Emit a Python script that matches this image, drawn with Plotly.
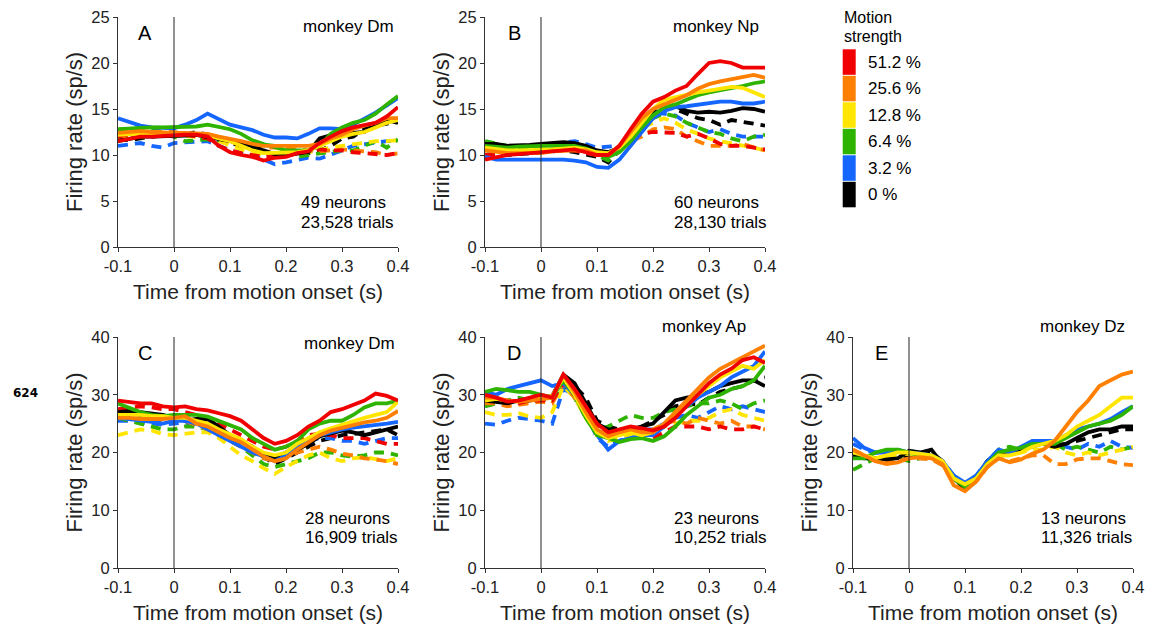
import plotly.graph_objects as go

W, H = 1160, 629

TIME = [-0.10, -0.08, -0.06, -0.04, -0.02, 0.00, 0.02, 0.04, 0.06, 0.08, 0.10, 0.12, 0.14,
        0.16, 0.18, 0.20, 0.22, 0.24, 0.26, 0.28, 0.30, 0.32, 0.34, 0.36, 0.38, 0.40]

STRENGTHS = ["51.2 %", "25.6 %", "12.8 %", "6.4 %", "3.2 %", "0 %"]
COLOR_NAMES = ["red", "orange", "yellow", "green", "blue", "black"]
COLORS = {"red": "#F00000", "orange": "#FF7F00", "yellow": "#FFE500",
          "green": "#2EB400", "blue": "#1466FF", "black": "#000000"}

X_TICKS = [-0.1, 0, 0.1, 0.2, 0.3, 0.4]
X_TICK_TEXT = ["-0.1", "0", "0.1", "0.2", "0.3", "0.4"]

# ---------------- Panel A (monkey Dm) ----------------
A_RED = [11.5, 11.8, 12.0, 12.0, 12.1, 12.2, 12.2, 12.2, 12.0, 11.0, 10.3, 10.0, 9.8, 9.4, 9.7, 9.8, 10.2, 10.4, 11.3, 12.0, 12.6, 13.0, 13.3, 13.5, 14.2, 15.2]
A_ORANGE = [12.4, 12.5, 12.6, 12.5, 12.4, 12.4, 12.4, 12.4, 12.3, 12.0, 11.8, 11.5, 11.2, 11.0, 11.0, 11.0, 11.0, 11.0, 11.2, 11.8, 12.2, 12.8, 13.2, 13.5, 14.0, 14.0]
A_YELLOW = [12.2, 12.3, 12.3, 12.2, 12.2, 12.2, 12.3, 12.3, 12.1, 11.8, 11.5, 11.0, 10.5, 10.2, 10.2, 10.2, 10.3, 10.5, 11.0, 11.5, 12.0, 12.3, 12.5, 13.0, 13.5, 13.8]
A_GREEN = [12.8, 12.9, 13.0, 13.0, 13.0, 13.0, 13.0, 13.1, 13.3, 13.0, 12.8, 12.3, 11.6, 11.2, 10.8, 10.5, 10.5, 10.5, 11.0, 12.3, 13.0, 13.5, 13.8, 14.5, 15.5, 16.4]
A_BLUE = [14.0, 13.6, 13.2, 13.0, 12.9, 12.9, 13.3, 13.8, 14.5, 13.9, 13.3, 13.0, 12.7, 12.2, 11.9, 11.9, 11.8, 12.3, 12.9, 12.9, 12.8, 13.3, 13.9, 14.6, 15.4, 16.2]
A_BLACK = [11.5, 11.8, 12.0, 12.0, 12.0, 12.0, 12.1, 12.2, 12.0, 11.8, 11.5, 11.2, 11.0, 10.5, 10.1, 10.0, 10.1, 10.3, 11.8, 12.2, 12.5, 12.4, 12.5, 13.3, 13.8, 13.5]
A_RED_D = [12.0, 12.2, 12.2, 12.0, 12.1, 12.3, 12.2, 12.0, 11.8, 11.0, 10.5, 10.2, 10.0, 9.8, 9.9, 10.0, 10.3, 10.5, 10.6, 10.5, 10.5, 10.3, 10.2, 10.0, 10.0, 10.2]
A_ORANGE_D = [12.6, 12.5, 12.4, 12.5, 12.5, 12.5, 12.3, 12.3, 12.0, 11.8, 11.5, 11.2, 11.0, 10.8, 10.8, 10.8, 10.6, 10.5, 10.4, 10.5, 10.6, 10.5, 10.4, 10.3, 10.0, 10.2]
A_YELLOW_D = [12.0, 12.1, 12.0, 12.0, 12.2, 12.1, 12.0, 12.0, 11.9, 11.5, 11.0, 10.6, 10.3, 10.0, 10.0, 10.0, 10.1, 10.3, 10.6, 10.8, 11.0, 11.2, 11.4, 11.5, 11.5, 11.6]
A_GREEN_D = [12.5, 12.8, 13.0, 12.8, 12.5, 12.0, 11.5, 11.6, 11.7, 11.6, 11.5, 11.4, 11.3, 11.2, 11.0, 10.4, 9.8, 10.0, 10.2, 10.4, 10.5, 10.5, 11.0, 11.5, 10.8, 11.7]
A_BLUE_D = [11.0, 11.2, 11.3, 11.0, 10.8, 11.3, 11.4, 11.5, 11.5, 11.0, 10.5, 10.2, 10.0, 9.5, 9.0, 9.2, 9.5, 9.7, 9.6, 10.0, 10.5, 11.0, 11.2, 11.4, 11.5, 11.5]
A_BLACK_D = [11.8, 11.6, 11.8, 12.0, 12.2, 12.0, 12.3, 12.5, 12.2, 11.6, 11.3, 11.0, 10.8, 10.4, 10.0, 10.0, 10.1, 10.2, 10.5, 11.0, 11.8, 12.0, 12.8, 13.2, 13.4, 13.6]

# ---------------- Panel B (monkey Np) ----------------
B_RED = [9.5, 9.8, 10.0, 10.1, 10.2, 10.3, 10.5, 10.6, 10.6, 10.3, 10.0, 10.0, 11.0, 12.8, 14.5, 15.8, 16.3, 17.0, 17.5, 18.8, 20.0, 20.2, 20.0, 19.5, 19.5, 19.5]
B_ORANGE = [10.5, 10.3, 10.2, 10.2, 10.2, 10.2, 10.4, 10.5, 10.5, 10.5, 10.0, 10.0, 11.0, 12.5, 14.0, 15.0, 15.5, 16.0, 16.5, 17.2, 17.7, 18.0, 18.2, 18.5, 18.7, 18.4]
B_YELLOW = [10.8, 10.6, 10.5, 10.5, 10.5, 10.5, 10.6, 10.7, 10.8, 10.6, 10.3, 10.2, 10.8, 12.0, 13.5, 15.0, 16.0, 16.3, 16.5, 16.8, 17.0, 17.2, 17.4, 17.3, 16.8, 16.3]
B_GREEN = [11.0, 10.9, 10.8, 10.9, 11.0, 11.0, 11.0, 11.0, 11.0, 10.7, 10.3, 9.8, 10.3, 11.5, 13.0, 14.3, 15.2, 15.5, 16.0, 16.5, 16.8, 17.0, 17.3, 17.5, 17.8, 18.0]
B_BLUE = [9.8, 9.5, 9.5, 9.5, 9.5, 9.6, 9.6, 9.5, 9.4, 9.2, 8.7, 8.6, 9.5, 11.0, 12.5, 14.0, 14.8, 15.2, 15.3, 15.5, 15.7, 15.8, 15.8, 15.6, 15.6, 15.8]
B_BLACK = [11.2, 11.2, 11.0, 11.0, 11.1, 11.2, 11.3, 11.4, 11.3, 11.0, 10.5, 10.3, 10.8, 12.0, 13.5, 14.5, 15.0, 15.3, 14.8, 14.6, 14.7, 14.6, 14.8, 15.1, 15.0, 14.7]
B_RED_D = [10.0, 10.0, 10.2, 10.3, 10.4, 10.5, 10.6, 10.5, 10.5, 10.2, 10.0, 10.0, 10.8, 11.8, 12.3, 12.5, 12.5, 12.4, 12.0, 12.3, 11.8, 11.2, 11.0, 11.0, 10.8, 10.6]
B_ORANGE_D = [10.5, 10.4, 10.3, 10.3, 10.4, 10.5, 10.5, 10.6, 10.5, 10.3, 10.0, 10.0, 10.5, 11.5, 12.0, 12.8, 13.0, 12.8, 12.0, 11.5, 11.0, 11.0, 11.0, 11.2, 10.8, 10.5]
B_YELLOW_D = [10.6, 10.5, 10.5, 10.4, 10.5, 10.6, 10.7, 10.8, 10.7, 10.5, 10.2, 10.0, 10.6, 12.0, 13.0, 13.5, 14.0, 13.5, 12.8, 12.3, 11.8, 11.5, 11.3, 11.0, 10.8, 10.5]
B_GREEN_D = [11.5, 11.2, 11.0, 10.8, 10.8, 10.9, 11.0, 11.0, 10.9, 10.5, 10.0, 9.4, 10.5, 12.0, 13.2, 14.0, 14.5, 14.2, 13.5, 13.0, 12.5, 12.3, 11.8, 11.5, 12.0, 12.2]
B_BLUE_D = [10.0, 10.3, 10.5, 10.8, 11.0, 11.0, 11.2, 11.4, 11.5, 11.2, 10.8, 10.9, 11.0, 12.0, 13.3, 14.5, 14.5, 14.3, 13.5, 13.0, 12.5, 12.8, 12.3, 12.0, 12.0, 12.0]
B_BLACK_D = [9.8, 9.9, 10.0, 10.1, 10.2, 10.3, 10.5, 10.5, 10.3, 10.0, 9.8, 9.2, 10.5, 12.0, 13.5, 14.5, 15.3, 15.0, 14.5, 14.0, 13.8, 13.3, 13.8, 13.6, 13.5, 13.2]

# ---------------- Panel C (monkey Dm) ----------------
C_RED = [29.0, 28.8, 28.5, 28.5, 28.0, 27.8, 28.0, 27.5, 27.3, 26.8, 26.3, 25.5, 24.0, 22.5, 21.5, 22.0, 23.0, 24.5, 25.5, 27.0, 27.5, 28.3, 29.0, 30.2, 29.8, 29.0]
C_ORANGE = [26.0, 26.0, 25.8, 25.8, 25.8, 26.0, 26.3, 25.0, 24.5, 23.5, 22.5, 21.8, 20.5, 19.3, 18.5, 19.0, 20.5, 21.8, 23.0, 23.8, 24.3, 24.8, 25.2, 25.5, 26.0, 27.2]
C_YELLOW = [26.5, 26.5, 26.5, 26.3, 26.3, 26.0, 26.0, 25.5, 25.0, 24.0, 23.2, 22.3, 21.0, 20.0, 19.5, 20.0, 21.5, 22.5, 23.5, 24.2, 24.8, 25.5, 26.0, 26.5, 27.0, 28.8]
C_GREEN = [28.5, 27.8, 27.0, 26.5, 26.3, 26.5, 26.5, 26.5, 26.2, 25.5, 24.8, 24.0, 22.5, 21.5, 20.5, 21.0, 22.0, 24.0, 25.0, 25.5, 25.5, 26.5, 27.8, 28.5, 28.5, 29.0]
C_BLUE = [26.0, 25.8, 25.5, 25.3, 25.0, 25.5, 25.5, 25.0, 24.0, 23.0, 22.0, 21.0, 20.0, 19.3, 18.5, 19.5, 21.0, 22.0, 23.0, 23.5, 24.0, 24.3, 24.5, 24.8, 25.0, 25.3]
C_BLACK = [27.0, 27.2, 27.0, 26.8, 26.5, 26.0, 25.5, 25.8, 25.8, 24.5, 23.0, 22.0, 21.0, 19.5, 19.0, 20.0, 20.5, 21.5, 22.8, 23.3, 23.8, 23.5, 23.0, 23.5, 24.0, 24.5]
C_RED_D = [27.5, 27.8, 28.0, 27.8, 27.5, 27.5, 27.0, 26.5, 26.0, 25.0, 24.0, 23.0, 22.0, 21.0, 20.5, 21.0, 22.0, 23.0, 23.2, 23.0, 22.5, 22.5, 22.5, 22.0, 21.5, 21.5]
C_ORANGE_D = [26.0, 25.8, 25.6, 25.5, 25.5, 25.8, 25.5, 24.8, 24.0, 23.0, 22.0, 21.0, 20.0, 19.0, 18.5, 19.0, 20.0, 20.5, 21.0, 20.5, 19.8, 19.5, 19.0, 18.8, 18.5, 18.0]
C_YELLOW_D = [23.0, 23.5, 24.0, 23.8, 23.2, 23.0, 23.2, 23.5, 23.5, 22.5, 21.0, 19.5, 18.5, 17.3, 16.3, 17.5, 18.5, 19.5, 20.0, 19.0, 18.5, 19.0, 19.2, 18.8, 18.5, 19.0]
C_GREEN_D = [26.0, 25.5, 25.0, 24.5, 24.0, 24.0, 24.5, 24.5, 24.0, 23.0, 22.0, 21.0, 19.5, 18.0, 17.5, 18.0, 18.5, 19.0, 20.0, 20.0, 19.5, 19.3, 19.5, 20.0, 20.0, 19.5]
C_BLUE_D = [25.5, 25.5, 25.2, 25.0, 24.8, 25.0, 25.2, 24.8, 24.0, 23.0, 22.0, 21.0, 20.0, 19.0, 18.8, 20.0, 21.0, 22.0, 22.5, 22.5, 22.0, 22.0, 21.5, 22.0, 22.5, 22.5]
C_BLACK_D = [26.5, 26.8, 26.5, 26.3, 26.0, 25.8, 25.5, 25.3, 25.0, 24.0, 22.8, 21.5, 20.5, 19.3, 18.0, 19.0, 20.0, 21.0, 22.0, 22.5, 23.0, 23.2, 23.5, 23.8, 24.0, 23.0]

# ---------------- Panel D (monkey Ap) ----------------
D_RED = [30.0, 29.5, 28.8, 29.0, 29.5, 30.0, 29.5, 33.5, 31.0, 28.0, 25.0, 23.5, 24.0, 24.5, 24.2, 23.8, 24.5, 26.0, 28.0, 30.0, 32.0, 33.5, 34.5, 36.0, 36.5, 35.5]
D_ORANGE = [29.5, 29.5, 29.0, 28.8, 29.0, 29.3, 29.5, 33.5, 30.5, 27.0, 24.0, 22.8, 23.5, 24.0, 23.5, 23.5, 25.0, 27.0, 29.0, 31.0, 33.0, 34.5, 35.5, 36.5, 37.5, 38.5]
D_YELLOW = [29.0, 29.3, 29.0, 28.8, 29.2, 29.5, 29.8, 33.0, 30.0, 26.5, 23.5, 22.5, 23.0, 23.5, 23.0, 23.5, 25.0, 26.5, 28.5, 30.0, 31.5, 33.0, 34.0, 35.0, 34.5, 36.0]
D_GREEN = [30.5, 31.0, 30.8, 30.5, 30.5, 30.0, 29.5, 32.5, 30.0, 26.0, 23.0, 22.5, 21.8, 22.3, 22.5, 22.0, 22.8, 24.5, 26.5, 28.0, 29.5, 30.0, 31.0, 31.5, 32.5, 35.0]
D_BLUE = [30.5, 30.0, 31.0, 31.5, 32.0, 32.5, 31.5, 32.0, 30.0, 28.0, 23.0, 20.5, 22.0, 22.5, 23.0, 23.0, 24.5, 26.5, 28.0, 29.5, 30.5, 31.5, 33.0, 34.0, 35.0, 37.5]
D_BLACK = [29.0, 28.8, 28.5, 29.0, 29.0, 29.5, 29.8, 33.5, 32.0, 28.5, 25.0, 24.0, 23.5, 24.0, 24.5, 25.0, 27.0, 29.0, 29.5, 29.8, 30.5, 31.5, 32.0, 32.5, 32.5, 31.5]
D_RED_D = [29.5, 29.0, 29.0, 28.5, 29.0, 29.0, 29.0, 32.0, 30.0, 27.0, 24.5, 23.0, 23.5, 23.5, 23.0, 22.5, 23.5, 24.5, 24.5, 24.5, 24.0, 24.5, 24.0, 24.0, 24.5, 24.0]
D_ORANGE_D = [28.5, 28.5, 28.0, 28.3, 28.5, 28.8, 28.5, 32.0, 29.5, 26.5, 24.0, 23.0, 23.5, 23.5, 23.5, 24.0, 25.0, 25.5, 25.0, 26.0, 25.5, 25.0, 25.5, 24.5, 24.5, 24.0]
D_YELLOW_D = [27.0, 26.5, 26.5, 26.8, 26.2, 26.0, 27.0, 31.5, 29.5, 26.0, 23.0, 22.0, 22.5, 23.0, 23.5, 24.0, 24.5, 25.0, 25.5, 25.5, 26.0, 27.0, 27.5, 26.5, 26.0, 25.5]
D_GREEN_D = [28.0, 28.5, 29.0, 29.5, 29.0, 29.0, 29.0, 32.0, 29.5, 26.0, 24.0, 24.5, 25.5, 26.5, 26.0, 26.0, 27.0, 27.5, 28.0, 28.5, 28.5, 29.0, 28.5, 27.5, 28.5, 29.0]
D_BLUE_D = [25.0, 24.8, 25.5, 26.0, 25.8, 25.5, 25.0, 31.0, 30.0, 27.0, 22.5, 21.0, 22.0, 23.0, 24.0, 24.0, 25.0, 26.0, 26.5, 26.0, 27.0, 28.0, 27.5, 28.0, 27.5, 27.0]
D_BLACK_D = [29.0, 29.2, 29.0, 28.8, 29.0, 29.2, 29.0, 32.0, 31.5, 29.5, 25.5, 24.5, 24.0, 24.0, 24.5, 25.5, 26.5, 28.0, 28.5, 28.3, 29.5, 30.5, 31.0, 31.5, 32.5, 33.0]

# ---------------- Panel E (monkey Dz) ----------------
E_ORANGE = [20.5, 19.5, 18.5, 18.0, 18.3, 19.0, 19.2, 19.0, 18.0, 14.3, 13.3, 15.0, 17.5, 19.0, 18.3, 18.8, 19.8, 20.5, 22.0, 24.5, 27.0, 29.0, 31.5, 32.5, 33.5, 34.0]
E_YELLOW = [20.0, 19.5, 19.0, 19.5, 20.0, 20.0, 19.8, 19.5, 18.5, 15.5, 14.5, 15.5, 18.0, 19.5, 19.5, 20.0, 21.0, 21.5, 22.0, 23.0, 24.5, 25.5, 26.5, 28.0, 29.5, 29.5]
E_GREEN = [19.0, 19.0, 20.0, 20.5, 20.5, 20.0, 19.5, 19.3, 18.3, 15.5, 14.0, 15.5, 18.0, 20.0, 20.5, 20.8, 21.5, 21.5, 21.5, 22.5, 23.5, 24.5, 25.0, 25.5, 26.5, 28.0]
E_BLUE = [22.5, 20.8, 20.0, 20.0, 20.5, 20.0, 19.8, 19.5, 18.5, 16.0, 14.8, 16.0, 18.5, 20.5, 20.0, 21.0, 22.0, 22.0, 22.0, 23.0, 24.0, 24.5, 25.0, 25.8, 27.0, 28.0]
E_BLACK = [19.5, 19.0, 19.0, 18.8, 19.0, 20.3, 20.0, 20.5, 18.0, 15.5, 13.8, 15.5, 18.5, 20.0, 20.0, 20.5, 21.5, 21.5, 21.0, 21.5, 22.5, 23.5, 24.0, 24.0, 24.5, 24.5]
E_ORANGE_D = [20.5, 19.5, 18.5, 18.2, 18.5, 19.0, 19.0, 18.8, 17.8, 15.0, 13.5, 15.0, 17.5, 19.0, 18.5, 19.0, 19.5, 19.5, 18.0, 18.0, 18.8, 19.0, 19.0, 18.5, 18.0, 17.8]
E_YELLOW_D = [19.5, 19.0, 19.0, 19.3, 19.5, 19.8, 19.5, 19.3, 18.3, 15.8, 14.5, 15.5, 18.0, 19.5, 19.5, 20.0, 20.5, 20.5, 21.0, 20.0, 19.5, 20.0, 19.5, 20.0, 20.5, 21.0]
E_GREEN_D = [17.0, 18.0, 19.0, 19.5, 19.0, 18.5, 19.0, 19.0, 18.0, 15.8, 14.0, 15.5, 18.5, 20.5, 21.0, 20.5, 21.5, 21.5, 21.5, 20.5, 21.0, 20.5, 20.0, 21.0, 20.5, 21.0]
E_BLUE_D = [21.5, 20.5, 20.0, 19.8, 20.0, 19.8, 19.5, 19.3, 18.5, 16.0, 14.5, 16.0, 18.5, 20.0, 20.0, 20.5, 21.0, 21.5, 21.5, 21.0, 20.5, 21.5, 21.0, 22.0, 21.0, 20.8]
E_BLACK_D = [19.8, 19.3, 19.0, 19.0, 19.2, 19.5, 19.8, 20.0, 18.5, 15.8, 14.0, 15.5, 18.5, 19.8, 20.0, 20.5, 21.0, 21.5, 21.3, 21.5, 22.0, 22.5, 23.0, 23.5, 24.0, 24.0]

PANELS = [
    dict(letter="A", monkey="monkey Dm", neurons="49 neurons", trials="23,528 trials", ymax=25, ydt=5,
         solid={"red": A_RED, "orange": A_ORANGE, "yellow": A_YELLOW, "green": A_GREEN, "blue": A_BLUE, "black": A_BLACK},
         dashed={"red": A_RED_D, "orange": A_ORANGE_D, "yellow": A_YELLOW_D, "green": A_GREEN_D, "blue": A_BLUE_D, "black": A_BLACK_D}),
    dict(letter="B", monkey="monkey Np", neurons="60 neurons", trials="28,130 trials", ymax=25, ydt=5,
         solid={"red": B_RED, "orange": B_ORANGE, "yellow": B_YELLOW, "green": B_GREEN, "blue": B_BLUE, "black": B_BLACK},
         dashed={"red": B_RED_D, "orange": B_ORANGE_D, "yellow": B_YELLOW_D, "green": B_GREEN_D, "blue": B_BLUE_D, "black": B_BLACK_D}),
    dict(letter="C", monkey="monkey Dm", neurons="28 neurons", trials="16,909 trials", ymax=40, ydt=10,
         solid={"red": C_RED, "orange": C_ORANGE, "yellow": C_YELLOW, "green": C_GREEN, "blue": C_BLUE, "black": C_BLACK},
         dashed={"red": C_RED_D, "orange": C_ORANGE_D, "yellow": C_YELLOW_D, "green": C_GREEN_D, "blue": C_BLUE_D, "black": C_BLACK_D}),
    dict(letter="D", monkey="monkey Ap", neurons="23 neurons", trials="10,252 trials", ymax=40, ydt=10,
         solid={"red": D_RED, "orange": D_ORANGE, "yellow": D_YELLOW, "green": D_GREEN, "blue": D_BLUE, "black": D_BLACK},
         dashed={"red": D_RED_D, "orange": D_ORANGE_D, "yellow": D_YELLOW_D, "green": D_GREEN_D, "blue": D_BLUE_D, "black": D_BLACK_D}),
    dict(letter="E", monkey="monkey Dz", neurons="13 neurons", trials="11,326 trials", ymax=40, ydt=10,
         solid={"orange": E_ORANGE, "yellow": E_YELLOW, "green": E_GREEN, "blue": E_BLUE, "black": E_BLACK},
         dashed={"orange": E_ORANGE_D, "yellow": E_YELLOW_D, "green": E_GREEN_D, "blue": E_BLUE_D, "black": E_BLACK_D}),
]

# layout geometry (pixels)
PANEL_X = [(118, 398), (485, 765), (118, 398), (485, 765), (853, 1133)]
PANEL_Y = [(17, 247), (17, 247), (337, 568), (337, 568), (337, 568)]
MONKEY_POS = [(396, 27), (761, 27), (397, 343), (748, 326), (1127, 326)]
LETTER_POS = [(145.5, 33), (514, 33), (145.5, 353), (513.5, 353), (881, 353)]
COUNT_POS = [(299, 202, 222), (672, 202, 222), (303, 518, 537), (672, 518, 537), (1039, 518, 537)]

FONT = "Liberation Sans, Arial, Helvetica, sans-serif"


def px(x):
    return x / W


def py(y):
    return 1 - y / H


fig = go.Figure()
annotations = []
shapes = []
layout = {}

for i, p in enumerate(PANELS):
    n = i + 1
    xa = "x" if n == 1 else f"x{n}"
    ya = "y" if n == 1 else f"y{n}"
    for name in ["black", "blue", "green", "yellow", "orange", "red"]:
        if name in p["dashed"]:
            fig.add_trace(go.Scatter(x=TIME, y=p["dashed"][name], mode="lines", xaxis=xa, yaxis=ya,
                                     line=dict(color=COLORS[name], width=3.8, dash="10px,7px"),
                                     showlegend=False, hoverinfo="skip"))
    for name in ["black", "blue", "green", "yellow", "orange", "red"]:
        if name in p["solid"]:
            fig.add_trace(go.Scatter(x=TIME, y=p["solid"][name], mode="lines", xaxis=xa, yaxis=ya,
                                     line=dict(color=COLORS[name], width=3.8),
                                     showlegend=False, hoverinfo="skip"))
    x0, x1 = PANEL_X[i]
    y0, y1 = PANEL_Y[i]
    axcommon = dict(showline=True, linecolor="#333333", linewidth=1, ticks="outside", ticklen=4,
                    tickcolor="#333333", showgrid=False, zeroline=False, automargin=False,
                    tickfont=dict(family=FONT, size=16.5, color="#222222"))
    layout["xaxis" if n == 1 else f"xaxis{n}"] = dict(
        domain=[px(x0), px(x1)], range=[-0.1, 0.4], tickvals=X_TICKS, ticktext=X_TICK_TEXT,
        anchor=ya, **axcommon)
    yt = list(range(0, p["ymax"] + 1, p["ydt"]))
    layout["yaxis" if n == 1 else f"yaxis{n}"] = dict(
        domain=[py(y1), py(y0)], range=[0, p["ymax"]], tickvals=yt, ticktext=[str(v) for v in yt],
        anchor=xa, **axcommon)
    # vertical line at motion onset
    shapes.append(dict(type="line", xref=xa, yref=f"{ya} domain", x0=0, x1=0, y0=0, y1=1,
                       line=dict(color="#222222", width=1)))
    # axis titles
    annotations.append(dict(x=px(x0 - 44), y=py((y0 + y1) / 2), xref="paper", yref="paper",
                            text="Firing rate (sp/s)", textangle=-90, showarrow=False,
                            font=dict(family=FONT, size=22, color="#222222"),
                            xanchor="center", yanchor="middle"))
    annotations.append(dict(x=px((x0 + x1) / 2), y=py(y1 + 44), xref="paper", yref="paper",
                            text="Time from motion onset (s)", showarrow=False,
                            font=dict(family=FONT, size=21, color="#222222"),
                            xanchor="center", yanchor="middle"))
    # panel texts
    lx, ly = LETTER_POS[i]
    annotations.append(dict(x=px(lx), y=py(ly), xref="paper", yref="paper", text=p["letter"],
                            showarrow=False, font=dict(family=FONT, size=20, color="#000000"),
                            xanchor="center", yanchor="middle"))
    mx, my = MONKEY_POS[i]
    annotations.append(dict(x=px(mx), y=py(my), xref="paper", yref="paper", text=p["monkey"],
                            showarrow=False, font=dict(family=FONT, size=17, color="#000000"),
                            xanchor="right", yanchor="middle"))
    cx, cy1, cy2 = COUNT_POS[i]
    annotations.append(dict(x=px(cx), y=py(cy1), xref="paper", yref="paper", text=p["neurons"],
                            showarrow=False, font=dict(family=FONT, size=17, color="#000000"),
                            xanchor="left", yanchor="middle"))
    annotations.append(dict(x=px(cx), y=py(cy2), xref="paper", yref="paper", text=p["trials"],
                            showarrow=False, font=dict(family=FONT, size=17, color="#000000"),
                            xanchor="left", yanchor="middle"))

# legend (color key)
annotations.append(dict(x=px(842), y=py(17.5), xref="paper", yref="paper", text="Motion",
                        showarrow=False, font=dict(family=FONT, size=16, color="#000000"),
                        xanchor="left", yanchor="middle"))
annotations.append(dict(x=px(842), y=py(36), xref="paper", yref="paper", text="strength",
                        showarrow=False, font=dict(family=FONT, size=16, color="#000000"),
                        xanchor="left", yanchor="middle"))
top = 49.3
step = 26.5
for k, (name, lab) in enumerate(zip(COLOR_NAMES, STRENGTHS)):
    yA = top + k * step
    yB = yA + step - 1
    shapes.append(dict(type="rect", xref="paper", yref="paper", x0=px(842.7), x1=px(855.7),
                       y0=py(yB), y1=py(yA), fillcolor=COLORS[name], line=dict(width=0)))
    annotations.append(dict(x=px(866), y=py((yA + yB) / 2), xref="paper", yref="paper", text=lab,
                            showarrow=False, font=dict(family=FONT, size=17, color="#000000"),
                            xanchor="left", yanchor="middle"))

# page number
annotations.append(dict(x=px(25), y=py(393), xref="paper", yref="paper", text="<b>624</b>",
                        showarrow=False, font=dict(family="DejaVu Sans", size=12, color="#000000"),
                        xanchor="center", yanchor="middle"))

fig.update_layout(width=W, height=H, margin=dict(l=0, r=0, t=0, b=0, autoexpand=False),
                  plot_bgcolor="white", paper_bgcolor="white", showlegend=False,
                  annotations=annotations, shapes=shapes, **layout)

fig.write_html("out.html")
